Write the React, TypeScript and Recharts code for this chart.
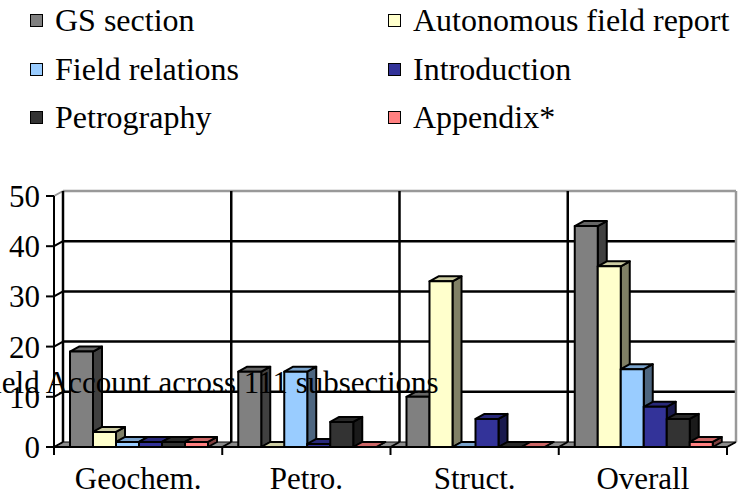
import { BarChart, Bar, XAxis, YAxis, CartesianGrid } from "recharts";

const categories = ["Geochem.", "Petro.", "Struct.", "Overall"];
const gsSection = [19, 15, 10, 44];
const autonomousReport = [3, 0, 33, 36];
const fieldRelations = [1, 15, 0, 15.5];
const introduction = [1, 0.6, 5.6, 8];
const petrography = [1, 5, 0, 5.6];
const appendix = [1, 0, 0, 1];
const yTicks = [0, 10, 20, 30, 40, 50];

const series = [
  { key: "gs", name: "GS section", values: gsSection, color: "#808080" },
  { key: "auto", name: "Autonomous field report", values: autonomousReport, color: "#FFFFCC" },
  { key: "field", name: "Field relations", values: fieldRelations, color: "#99CCFF" },
  { key: "intro", name: "Introduction", values: introduction, color: "#333399" },
  { key: "petro", name: "Petrography", values: petrography, color: "#333333" },
  { key: "app", name: "Appendix*", values: appendix, color: "#FF8080" },
];

const data = categories.map((name, i) => {
  const row: { [k: string]: string | number } = { name };
  series.forEach((s) => {
    row[s.key] = s.values[i];
  });
  return row;
});

const FONT = "'Liberation Serif', 'DejaVu Serif', serif";
const DX = 9;
const DY = -5;

// darken a hex colour by a factor
const shade = (hex: string, f: number) => {
  const n = parseInt(hex.slice(1), 16);
  const r = Math.round(((n >> 16) & 255) * f);
  const g = Math.round(((n >> 8) & 255) * f);
  const b = Math.round((n & 255) * f);
  return `rgb(${r},${g},${b})`;
};

const Bar3D = (props: any) => {
  const { x, y, width, height, fill } = props;
  if (x == null || y == null) return null;
  const h = Math.max(0, height || 0);
  const w = width;
  return (
    <g stroke="#000" strokeWidth={2} strokeLinejoin="round">
      <polygon
        points={`${x + w},${y} ${x + w + DX},${y + DY} ${x + w + DX},${y + h + DY} ${x + w},${y + h}`}
        fill={shade(fill, 0.5)}
      />
      <polygon
        points={`${x},${y} ${x + DX},${y + DY} ${x + w + DX},${y + DY} ${x + w},${y}`}
        fill={shade(fill, 0.8)}
      />
      <rect x={x} y={y} width={w} height={h} fill={fill} />
    </g>
  );
};

const HLine = (props: any) => {
  const { x1, x2, y1, index } = props;
  const isFloor = index === 0 || Math.abs(y1 - 447) < 1;
  const isTop = Math.abs(y1 - 196) < 1;
  if (isFloor) {
    return (
      <polygon
        key={`h-${y1}`}
        points={`${x1},${y1} ${x2},${y1} ${x2 + DX},${y1 + DY} ${x1 + DX},${y1 + DY}`}
        fill="#8c8c8c"
        stroke="#000"
        strokeWidth={1}
      />
    );
  }
  return (
    <g key={`h-${y1}`}>
      <line x1={x1} y1={y1} x2={x1 + DX} y2={y1 + DY} stroke={isTop ? "#999" : "#000"} strokeWidth={2} />
      <line x1={x1 + DX} y1={y1 + DY} x2={x2 + DX} y2={y1 + DY} stroke={isTop ? "#999" : "#000"} strokeWidth={2.5} />
    </g>
  );
};

const VLine = (props: any) => {
  const { x1, y1, y2 } = props;
  const isRight = x1 > 720;
  return (
    <g key={`v-${x1}`}>
      <line x1={x1 + DX} y1={y1 + DY} x2={x1 + DX} y2={y2 + DY} stroke={isRight ? "#999" : "#000"} strokeWidth={2.5} />
      <line x1={x1} y1={y2} x2={x1 + DX} y2={y2 + DY} stroke="#000" strokeWidth={2} />
      <line x1={x1} y1={y2} x2={x1} y2={y2 + 8} stroke="#000" strokeWidth={2} />
    </g>
  );
};

const Legend6 = () => (
  <div style={{ position: "absolute", left: 0, top: 0, fontFamily: FONT, fontSize: 32 }}>
    {series.map((s, i) => {
      const col = i % 2;
      const row = Math.floor(i / 2);
      const left = col === 0 ? 30 : 388;
      const top = row * 48.5;
      return (
        <div key={s.key} style={{ position: "absolute", left, top, height: 40, whiteSpace: "nowrap" }}>
          <div
            style={{
              position: "absolute",
              left: 0,
              top: 14,
              width: 11,
              height: 11,
              background: s.color,
              border: "1.5px solid #000",
            }}
          />
          <span style={{ position: "absolute", left: 25, top: 0, lineHeight: "40px" }}>{s.name}</span>
        </div>
      );
    })}
  </div>
);

export default function App() {
  return (
    <div style={{ position: "absolute", left: 0, top: 0, width: 738, height: 497, background: "#fff" }}>
      <BarChart
        width={738}
        height={497}
        data={data}
        margin={{ top: 196, right: 11, bottom: 5, left: 0 }}
        barCategoryGap={16}
        barGap={0}
      >
        <CartesianGrid
          horizontal={HLine}
          vertical={VLine}
          verticalCoordinatesGenerator={({ offset }: any) => {
            const left = offset?.left ?? 54;
            const w = offset?.width ?? 673;
            return categories.map((_, i) => left + (i * w) / categories.length).concat(left + w);
          }}
        />
        <XAxis
          dataKey="name"
          axisLine={{ stroke: "#000", strokeWidth: 2 }}
          tickLine={false}
          tickSize={8}
          tickMargin={12}
          height={45}
          tick={{ fill: "#000", fontFamily: FONT, fontSize: 31 }}
          interval={0}
        />
        <YAxis
          domain={[0, 50]}
          ticks={yTicks}
          width={54}
          axisLine={{ stroke: "#000", strokeWidth: 2 }}
          tickLine={{ stroke: "#000", strokeWidth: 2 }}
          tickSize={8}
          tickMargin={6}
          tick={{ fill: "#000", fontFamily: FONT, fontSize: 31 }}
        />
        {series.map((s) => (
          <Bar key={s.key} dataKey={s.key} name={s.name} fill={s.color} shape={Bar3D} isAnimationActive={false} />
        ))}
      </BarChart>
      <Legend6 />
      <svg width={738} height={497} style={{ position: "absolute", left: 0, top: 0, pointerEvents: "none" }}>
        <text x={-24} y={393} fontFamily={FONT} fontSize={31} fill="#000">
          Field Account across 111 subsections
        </text>
      </svg>
    </div>
  );
}
